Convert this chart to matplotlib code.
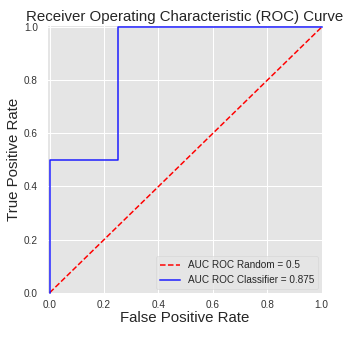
import matplotlib
matplotlib.use("Agg")
import matplotlib.pyplot as plt

# ROC data
fpr_random = [0.0, 1.0]
tpr_random = [0.0, 1.0]
fpr_clf = [0.0, 0.0, 0.25, 0.25, 1.0]
tpr_clf = [0.0, 0.5, 0.5, 1.0, 1.0]
auc_random = 0.5
auc_clf = 0.875
ticks = [0.0, 0.2, 0.4, 0.6, 0.8, 1.0]

plt.style.use("ggplot")
plt.rcParams["font.family"] = ["Liberation Sans", "DejaVu Sans"]

fig = plt.figure(figsize=(351 / 72, 337 / 72), dpi=72)
ax = fig.add_axes([47 / 351, 1 - 294 / 337, 276 / 351, 269 / 337])
ax.set_facecolor("#E5E5E5")

ax.plot(fpr_random, tpr_random, "r--", lw=1.5, label="AUC ROC Random = {}".format(auc_random))
ax.plot(fpr_clf, tpr_clf, color="#1a1aff", lw=1.5, label="AUC ROC Classifier = {}".format(auc_clf))

ax.set_xlim(-0.01, 1.005)
ax.set_ylim(-0.005, 1.008)
ax.set_xticks(ticks)
ax.set_yticks(ticks)
ax.tick_params(labelsize=10, labelcolor="#333333", length=0)
ax.tick_params(axis="x", pad=6)
ax.tick_params(axis="y", pad=9)
ax.grid(True, color="white", lw=1)

ax.set_title("Receiver Operating Characteristic (ROC) Curve", fontsize=15, color="#262626", pad=4)
ax.set_xlabel("False Positive Rate", fontsize=15, color="#262626", labelpad=1)
ax.set_ylabel("True Positive Rate", fontsize=15, color="#262626", labelpad=3)

leg = ax.legend(loc="lower right", fontsize=10, frameon=True)
leg.get_frame().set_facecolor("#E5E5E5")
leg.get_frame().set_edgecolor("#CCCCCC")
for t in leg.get_texts():
    t.set_color("#262626")

fig.savefig("out.png", dpi=72)
